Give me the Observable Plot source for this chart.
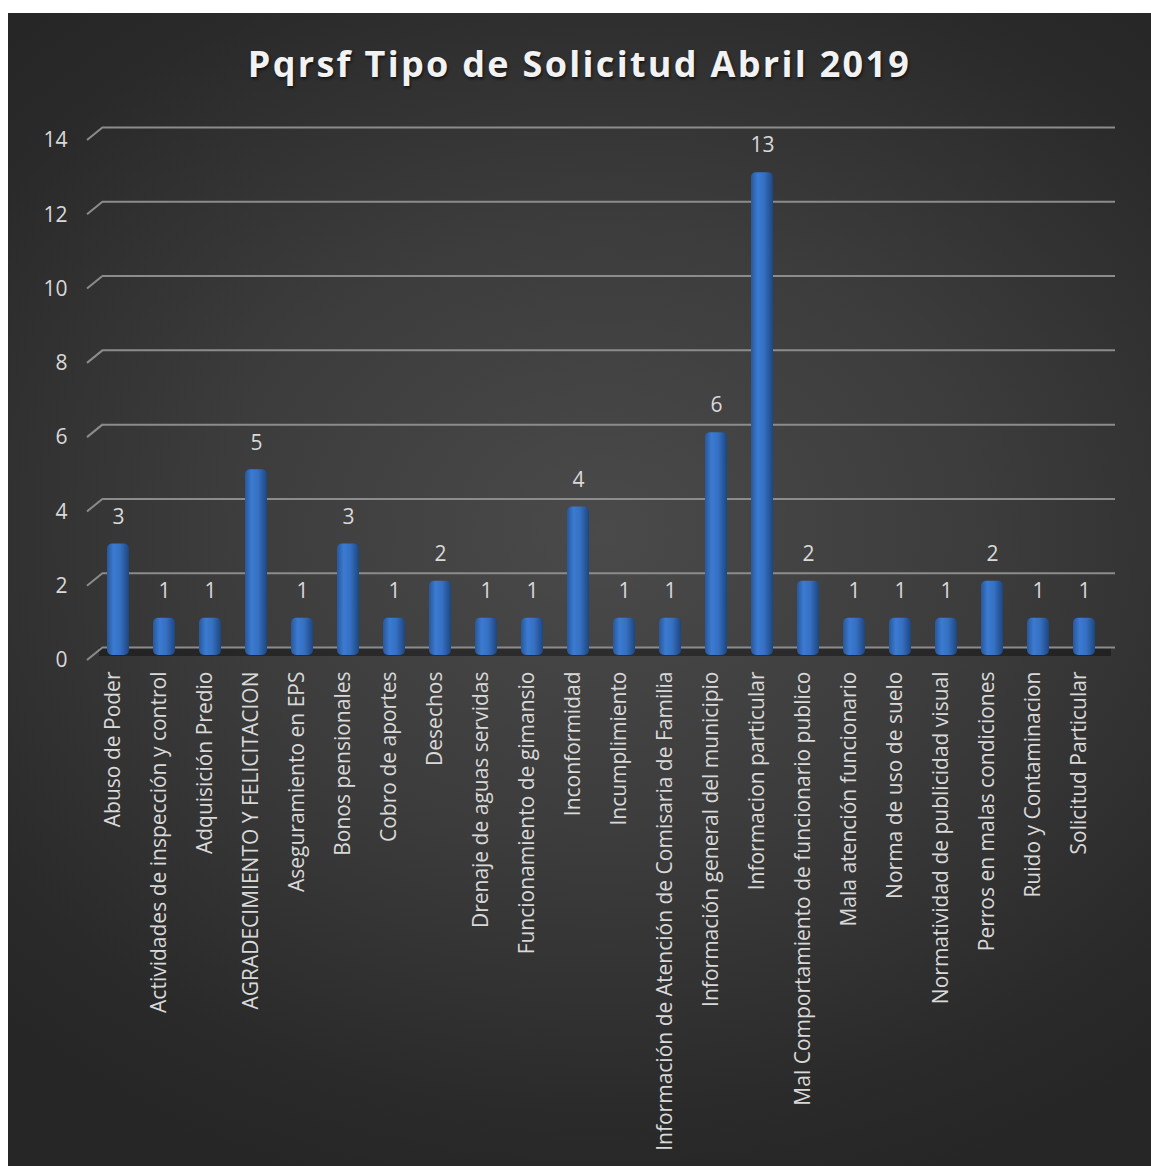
<!DOCTYPE html>
<html>
<head>
<meta charset="utf-8">
<script src="https://cdn.jsdelivr.net/npm/d3@7"></script>
<script src="https://cdn.jsdelivr.net/npm/@observablehq/plot@0.6"></script>
<style>
  html, body { margin: 0; padding: 0; background: #ffffff; }
  #panel {
    position: absolute; left: 8px; top: 13px; width: 1143px; height: 1153px; overflow: hidden;
    background: radial-gradient(ellipse 75% 60% at 52% 45%, #4a4a4a 0%, #3c3c3c 45%, #2a2a2a 85%, #262626 100%);
  }
  #title {
    height: 100px; display: flex; align-items: center; justify-content: center;
    font-family: "Open Sans", Lato, sans-serif; font-weight: 700; font-size: 36px; letter-spacing: 2.3px;
    color: #f2f2f2; text-shadow: 1px 2px 3px rgba(0,0,0,0.6);
  }
  #chart svg { display: block; }
</style>
</head>
<body>
<div id="panel">
  <div id="title"></div>
  <div id="chart"></div>
</div>
<script>
const title = "Pqrsf Tipo de Solicitud Abril 2019";
const categories = [
  "Abuso de Poder",
  "Actividades de inspección y control",
  "Adquisición Predio",
  "AGRADECIMIENTO Y FELICITACION",
  "Aseguramiento en EPS",
  "Bonos pensionales",
  "Cobro de aportes",
  "Desechos",
  "Drenaje de aguas servidas",
  "Funcionamiento de gimansio",
  "Inconformidad",
  "Incumplimiento",
  "Información de Atención de Comisaria de Familia",
  "Información general del municipio",
  "Informacion particular",
  "Mal Comportamiento de funcionario publico",
  "Mala atención funcionario",
  "Norma de uso de suelo",
  "Normatividad de publicidad visual",
  "Perros en malas condiciones",
  "Ruido y Contaminacion",
  "Solicitud Particular"
];
const values = [3, 1, 1, 5, 1, 3, 1, 2, 1, 1, 4, 1, 1, 6, 13, 2, 1, 1, 1, 2, 1, 1];
const yTicks = [0, 2, 4, 6, 8, 10, 12, 14];

document.getElementById("title").textContent = title;
const data = categories.map((c, i) => ({category: c, value: values[i]}));
const svgNS = "http://www.w3.org/2000/svg";

const defs = () => {
  const d = document.createElementNS(svgNS, "defs");
  d.innerHTML = `<linearGradient id="barGrad" x1="0" x2="1" y1="0" y2="0">
      <stop offset="0" stop-color="#2a5799"/>
      <stop offset="0.3" stop-color="#3a7bd2"/>
      <stop offset="0.6" stop-color="#3670c2"/>
      <stop offset="1" stop-color="#1d467f"/>
    </linearGradient>`;
  return d;
};

const stubs = (index, scales, values, dims) => {
  const g = document.createElementNS(svgNS, "g");
  for (const v of yTicks) {
    const l = document.createElementNS(svgNS, "line");
    const y = scales.y(v);
    l.setAttribute("x1", dims.marginLeft - 8);
    l.setAttribute("y1", y + 5);
    l.setAttribute("x2", dims.marginLeft + 8);
    l.setAttribute("y2", y - 8);
    l.setAttribute("stroke", "#8c8c8c");
    l.setAttribute("stroke-width", 2);
    g.appendChild(l);
  }
  return g;
};

const chart = Plot.plot({
  width: 1143,
  height: 1053,
  marginLeft: 87,
  marginRight: 44,
  marginTop: 22,
  marginBottom: 511,
  style: {background: "transparent", color: "#d9d9d9", fontFamily: "'Open Sans', Lato, sans-serif", fontSize: "21px"},
  x: {domain: categories, paddingInner: 0.52, paddingOuter: 0.26, axis: null},
  y: {domain: [0, 14], axis: null},
  marks: [
    defs,
    Plot.ruleY([0], {stroke: "#000000", strokeOpacity: 0.35, strokeWidth: 9, dy: -4, dx: 4}),
    Plot.ruleY(yTicks, {stroke: "#8c8c8c", strokeWidth: 2, dx: 8, dy: -8}),
    stubs,
    Plot.axisY(yTicks, {tickSize: 0, tickPadding: 28, dy: 5, label: null, fontSize: 21, fill: "#d9d9d9"}),
    Plot.axisX({tickRotate: -90, tickSize: 0, tickPadding: 16, label: null, dx: -5, fontSize: 21, fill: "#d9d9d9"}),
    Plot.barY(data, {x: "category", y: "value", fill: "url(#barGrad)", rx: 5}),
    Plot.text(data, {x: "category", y: "value", text: d => String(d.value), dy: -27, fill: "#d9d9d9", fontSize: 21})
  ]
});
document.getElementById("chart").appendChild(chart);
</script>
</body>
</html>
